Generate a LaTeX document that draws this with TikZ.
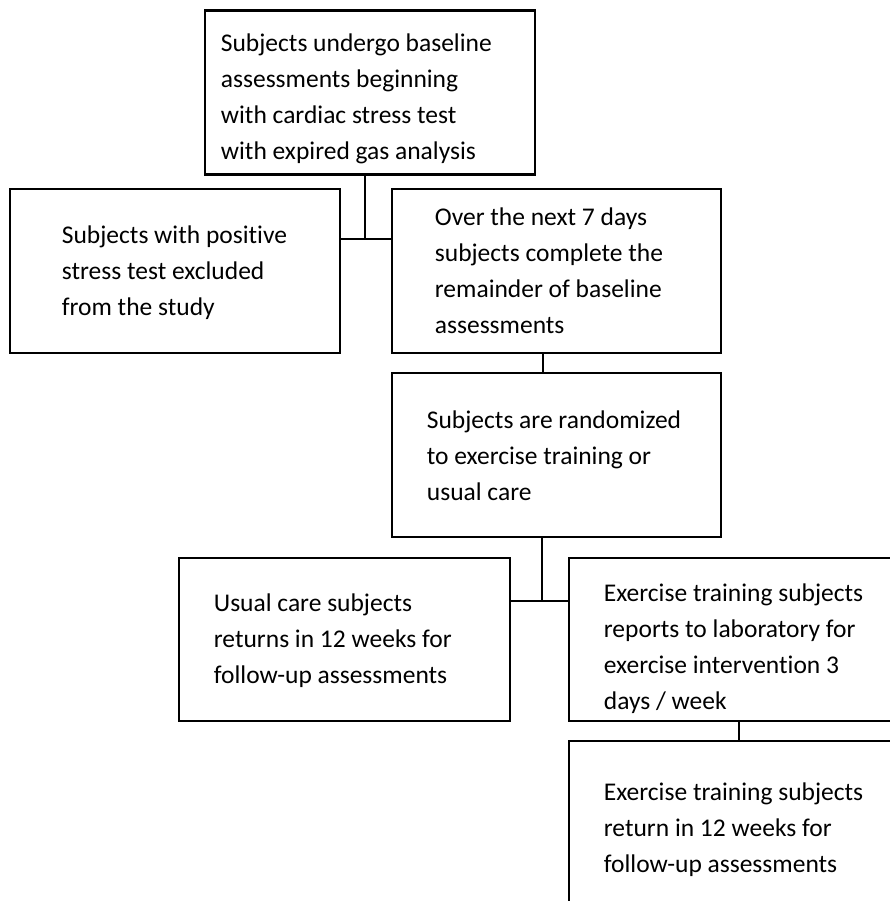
\documentclass[tikz,border=0pt]{standalone}
\usepackage{fontspec}
\setmainfont{Carlito}[Ligatures=NoCommon]
\usetikzlibrary{positioning}

\tikzset{
  box/.style={draw,rectangle,line width=2.6pt,inner sep=0pt,
              minimum width=330pt,minimum height=164pt},
  boxtext/.style={anchor=west,align=left,inner sep=0pt,
                  font=\fontsize{25.5}{36}\selectfont},
  link/.style={line width=2.6pt}
}

\begin{document}
\begin{tikzpicture}[x=1pt,y=-1pt]
  \useasboundingbox (0,0) rectangle (889,901);
  % boxes
  \node[box] (baseline) at (370,92.5){};
  \node[box] (excluded) at (175,271){};
  \node[box,minimum width=329pt] (week) at (556.5,271){};
  \node[box,minimum width=329pt] (random) at (556.5,455){};
  \node[box,minimum width=331pt,minimum height=163pt] (usual) at (344.5,639.5){};
  \node[box,minimum height=163pt] (training) at (734,639.5){};
  \node[box] (followup) at (734,823){};
  % texts
  \node[boxtext,xshift=17pt,yshift=-6.5pt] (baseline-txt) at (baseline.west)
    {Subjects undergo baseline\\assessments beginning\\with cardiac stress test\\with expired gas analysis};
  \node[boxtext,xshift=53pt,yshift=-1.5pt] (excluded-txt) at (excluded.west)
    {Subjects with positive\\stress test excluded\\from the study};
  \node[boxtext,xshift=44pt] (week-txt) at (week.west)
    {Over the next 7 days\\subjects complete the\\remainder of baseline\\assessments};
  \node[boxtext,xshift=36pt,yshift=-0.5pt] (random-txt) at (random.west)
    {Subjects are randomized\\to exercise training or\\usual care};
  \node[boxtext,xshift=36pt,yshift=-1.5pt] (usual-txt) at (usual.west)
    {Usual care subjects\\returns in 12 weeks for\\follow-up assessments};
  \node[boxtext,xshift=36pt,yshift=-9.5pt] (training-txt) at (training.west)
    {Exercise training subjects\\reports to laboratory for\\exercise intervention 3\\days / week};
  \node[boxtext,xshift=36pt,yshift=-7pt] (followup-txt) at (followup.west)
    {Exercise training subjects\\return in 12 weeks for\\follow-up assessments};
  % connectors
  \coordinate (split1) at (365,239);
  \coordinate (split2) at (542,601);
  \coordinate (drop1) at (543,0);
  \coordinate (drop2) at (739,0);
  \draw[link] (baseline.south -| split1) -- (split1);
  \draw[link] (excluded.east |- split1) -- (week.west |- split1);
  \draw[link] (week.south -| drop1) -- (random.north -| drop1);
  \draw[link] (random.south -| split2) -- (split2);
  \draw[link] (usual.east |- split2) -- (training.west |- split2);
  \draw[link] (training.south -| drop2) -- (followup.north -| drop2);
\end{tikzpicture}
\end{document}
